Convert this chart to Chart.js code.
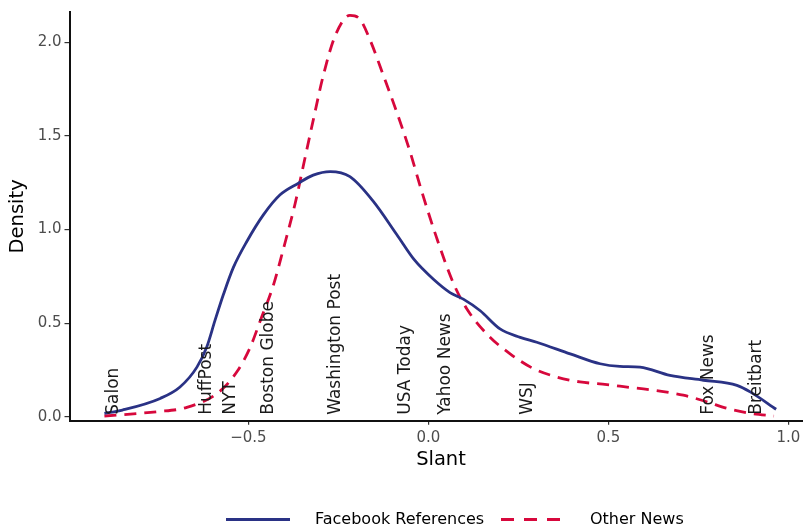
<!DOCTYPE html>
<html>
<head>
<meta charset="utf-8">
<script src="https://cdn.jsdelivr.net/npm/chart.js@4.4.1/dist/chart.umd.min.js"></script>
<style>
  html, body { margin: 0; padding: 0; background: #fff; overflow: hidden; }
  #wrap { width: 803px; height: 532px; overflow: hidden; }
  canvas { display: block; }
</style>
</head>
<body>
<div id="wrap"><canvas id="densityChart" width="813" height="532"></canvas></div>
<script>
// density of slant for Facebook references
const fbSlant   = [-0.90, -0.85, -0.745, -0.690, -0.643, -0.616, -0.593, -0.569, -0.542, -0.504, -0.458, -0.412, -0.361, -0.320, -0.273, -0.218, -0.153, -0.088, -0.040, 0.014, 0.060, 0.097, 0.144, 0.199, 0.255, 0.301, 0.394, 0.477, 0.532, 0.588, 0.671, 0.764, 0.857, 0.894, 0.966];
const fbDensity = [0.018, 0.036, 0.098, 0.159, 0.265, 0.371, 0.513, 0.655, 0.796, 0.937, 1.079, 1.185, 1.247, 1.290, 1.309, 1.282, 1.150, 0.973, 0.840, 0.734, 0.663, 0.628, 0.566, 0.469, 0.424, 0.398, 0.336, 0.283, 0.269, 0.265, 0.221, 0.195, 0.168, 0.133, 0.040];

// density of slant for other news
const otherSlant   = [-0.90, -0.754, -0.671, -0.583, -0.532, -0.495, -0.467, -0.431, -0.403, -0.370, -0.347, -0.319, -0.292, -0.259, -0.218, -0.19, -0.163, -0.125, -0.088, -0.051, -0.018, 0.023, 0.069, 0.107, 0.167, 0.227, 0.292, 0.357, 0.421, 0.496, 0.532, 0.625, 0.708, 0.773, 0.829, 0.894, 0.96];
const otherDensity = [0.004, 0.027, 0.050, 0.130, 0.240, 0.371, 0.513, 0.700, 0.895, 1.140, 1.344, 1.592, 1.822, 2.034, 2.143, 2.122, 2.016, 1.822, 1.627, 1.415, 1.200, 0.955, 0.715, 0.575, 0.433, 0.336, 0.257, 0.212, 0.186, 0.172, 0.163, 0.142, 0.115, 0.080, 0.045, 0.018, 0.004];

// outlets marked along the slant axis
const outletNames = ['Salon', 'HuffPost', 'NYT', 'Boston Globe', 'Washington Post', 'USA Today', 'Yahoo News', 'WSJ', 'Fox News', 'Breitbart'];
const outletSlant = [-0.875, -0.617, -0.549, -0.444, -0.259, -0.063, 0.049, 0.276, 0.778, 0.912];

const seriesNames = ['Facebook References', 'Other News'];
const xTicks = [-0.5, 0, 0.5, 1];
const yTicks = [0, 0.5, 1, 1.5, 2];

const FONT = "'DejaVu Sans', sans-serif";
const BLUE = '#2a3285';
const RED = '#d7083c';

function toPoints(xs, ys){
  return xs.map((x, i) => ({x: x, y: ys[i]}));
}

function fmtTick(v){
  return (v < 0 ? '\u2212' : '') + Math.abs(v).toFixed(1);
}

// outlet names, rotated, sitting on the zero line
const outletLabels = {
  id: 'outletLabels',
  afterDatasetsDraw(chart){
    const ctx = chart.ctx;
    const xs = chart.scales.x;
    const ys = chart.scales.y;
    const base = ys.getPixelForValue(0) - 2;
    ctx.save();
    ctx.font = "17px " + FONT;
    ctx.fillStyle = '#1a1a1a';
    ctx.textAlign = 'left';
    ctx.textBaseline = 'middle';
    for (let i = 0; i < outletNames.length; i++) {
      ctx.save();
      ctx.translate(xs.getPixelForValue(outletSlant[i]), base);
      ctx.rotate(-Math.PI / 2);
      ctx.fillText(outletNames[i], 0, 0);
      ctx.restore();
    }
    ctx.restore();
  }
};

// ggplot style legend under the plot
const bottomLegend = {
  id: 'bottomLegend',
  afterDraw(chart){
    const ctx = chart.ctx;
    const y = 519.5;
    const keyX = [226, 501];
    const textX = [315, 590];
    ctx.save();
    ctx.font = "16px " + FONT;
    ctx.textBaseline = 'middle';
    ctx.textAlign = 'left';
    chart.data.datasets.forEach((ds, i) => {
      ctx.beginPath();
      ctx.strokeStyle = ds.borderColor;
      ctx.lineWidth = 3;
      ctx.setLineDash(i === 1 ? [13, 10] : []);
      ctx.moveTo(keyX[i], y);
      ctx.lineTo(keyX[i] + 64, y);
      ctx.stroke();
      ctx.setLineDash([]);
      ctx.fillStyle = '#000';
      ctx.fillText(ds.label, textX[i], y);
    });
    ctx.restore();
  }
};

const ctx = document.getElementById('densityChart');
const densityChart = new Chart(ctx, {
  type: 'line',
  data: {
    datasets: [
      {
        label: seriesNames[0],
        data: toPoints(fbSlant, fbDensity),
        borderColor: BLUE,
        borderWidth: 2.8,
        pointRadius: 0,
        cubicInterpolationMode: 'monotone',
        fill: false
      },
      {
        label: seriesNames[1],
        data: toPoints(otherSlant, otherDensity),
        borderColor: RED,
        borderWidth: 2.8,
        borderDash: [12, 8],
        pointRadius: 0,
        cubicInterpolationMode: 'monotone',
        fill: false
      }
    ]
  },
  options: {
    responsive: false,
    animation: false,
    devicePixelRatio: 1,
    layout: { padding: { top: 9.3, left: 0, right: 0.5, bottom: 60 } },
    plugins: {
      legend: { display: false },
      tooltip: { enabled: false }
    },
    scales: {
      x: {
        type: 'linear',
        min: -0.997,
        max: 1.067,
        afterBuildTicks: function(scale){ scale.ticks = xTicks.map(v => ({value: v})); },
        afterFit: function(scale){ scale.height = 51.3; },
        grid: { drawOnChartArea: false, drawTicks: true, tickLength: 4, color: '#333', lineWidth: 1.2 },
        border: { display: true, color: '#111', width: 2 },
        ticks: { color: '#4d4d4d', font: { family: FONT, size: 15 }, padding: 4, maxRotation: 0, callback: fmtTick },
        title: { display: true, text: 'Slant', color: '#000', font: { family: FONT, size: 19.5 }, padding: { top: 0, bottom: 0 } }
      },
      y: {
        type: 'linear',
        min: -0.021,
        max: 2.161,
        afterBuildTicks: function(scale){ scale.ticks = yTicks.map(v => ({value: v})); },
        afterFit: function(scale){ scale.width = 69.5; },
        grid: { drawOnChartArea: false, drawTicks: true, tickLength: 5, color: '#333', lineWidth: 1.2 },
        border: { display: true, color: '#111', width: 2 },
        ticks: { color: '#4d4d4d', font: { family: FONT, size: 15 }, padding: 3, callback: fmtTick },
        title: { display: true, text: 'Density', color: '#000', font: { family: FONT, size: 19.5 }, padding: { top: 6, bottom: 0 } }
      }
    }
  },
  plugins: [outletLabels, bottomLegend]
});
</script>
</body>
</html>
